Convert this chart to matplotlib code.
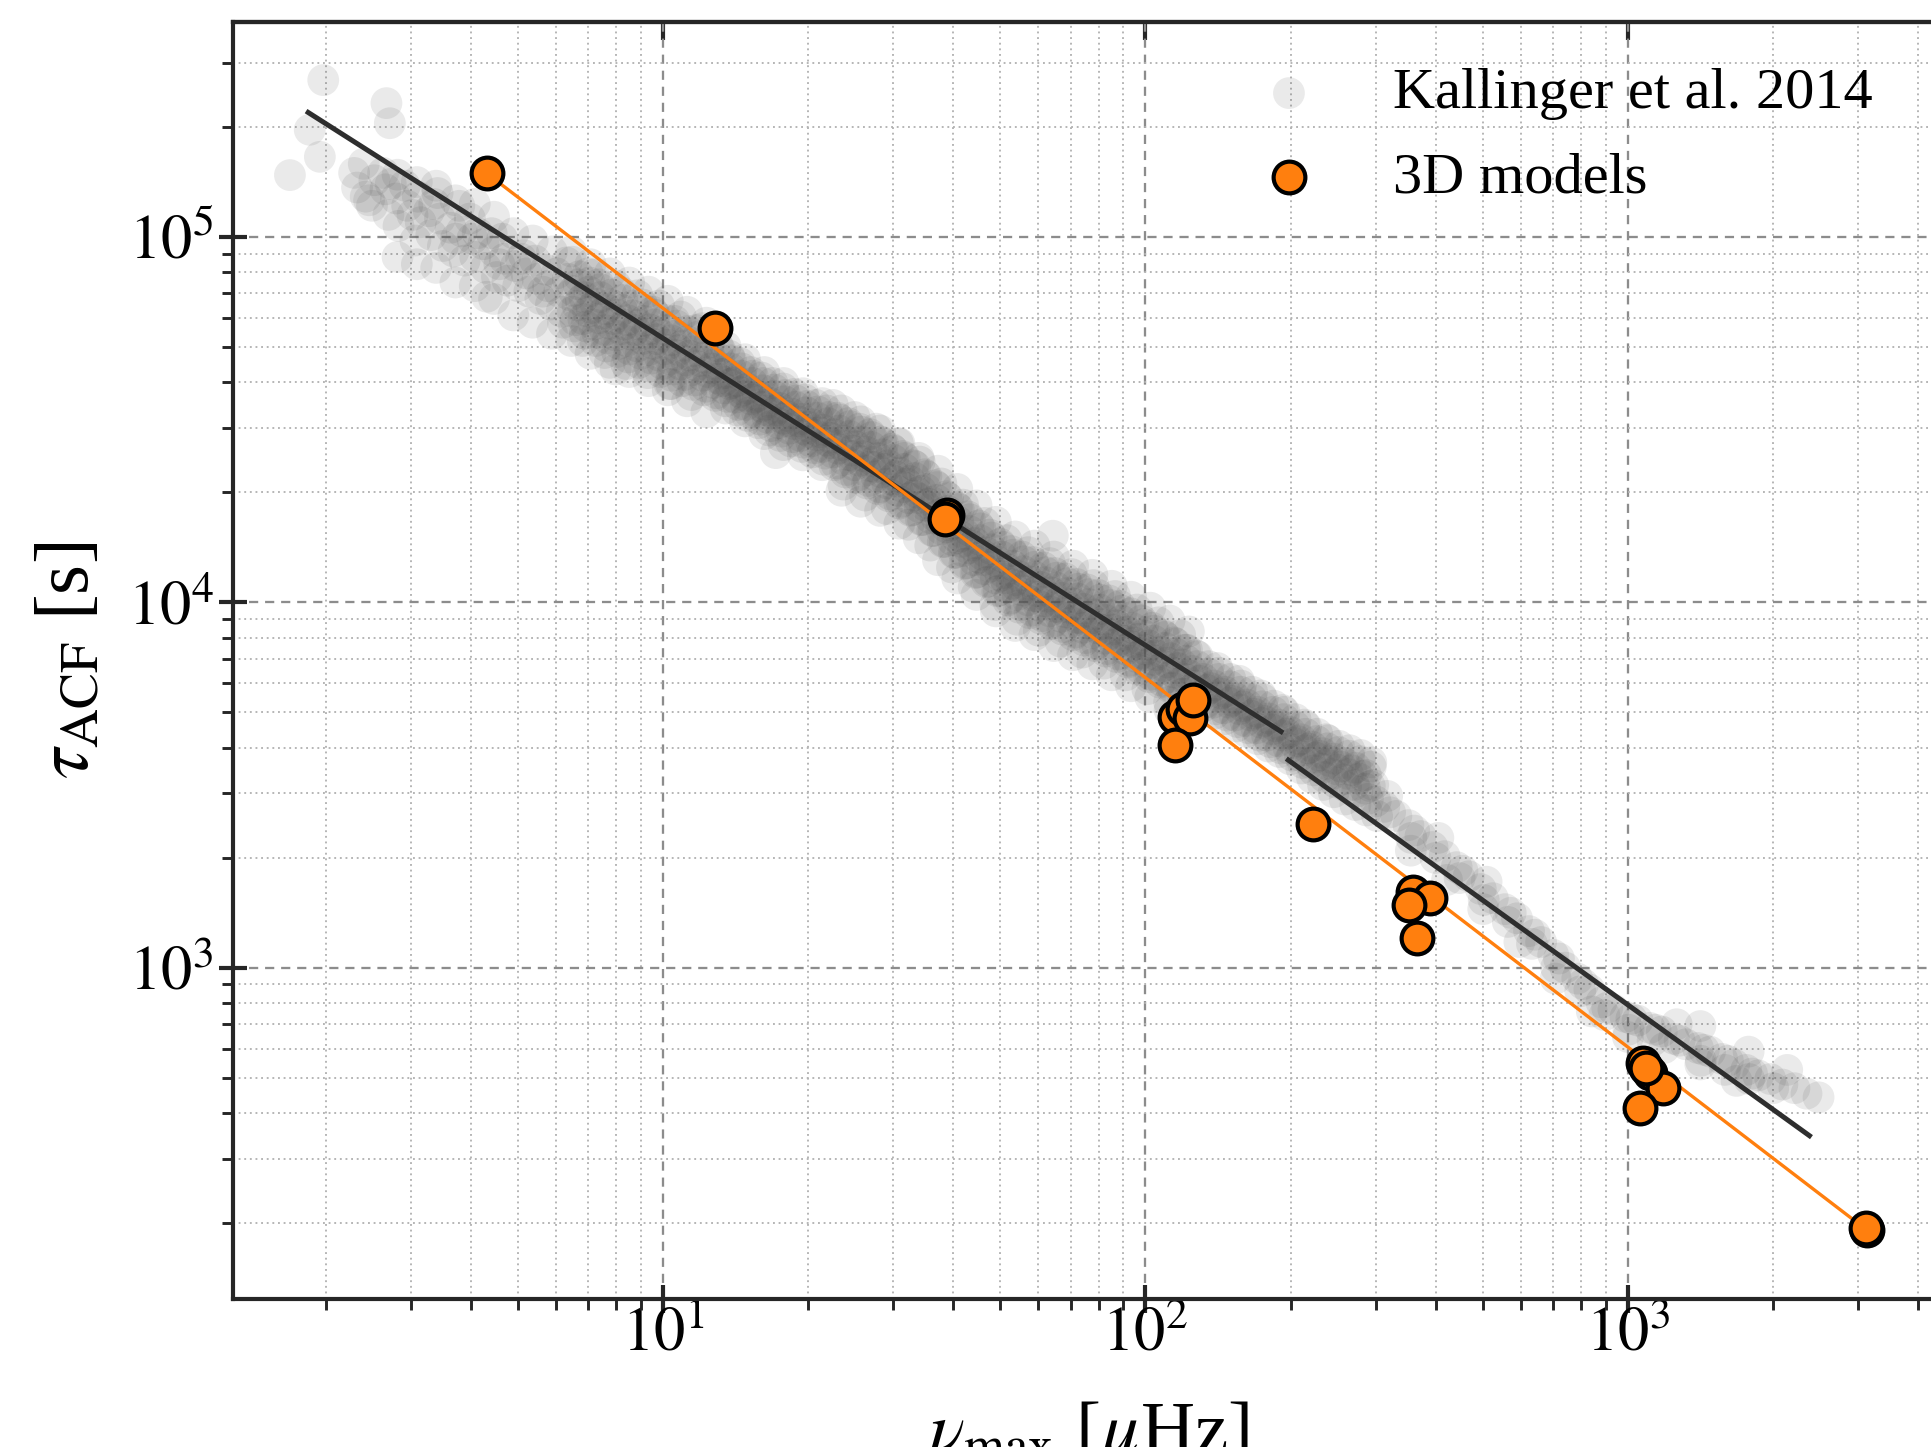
import numpy as np
import matplotlib
matplotlib.use("Agg")
import matplotlib.pyplot as plt
from matplotlib.ticker import LogLocator, NullFormatter, FuncFormatter, NullLocator

plt.rcParams['font.family'] = ['Liberation Serif', 'DejaVu Serif']
plt.rcParams['mathtext.fontset'] = 'stix'

# ---------------------------------------------------------------------------
# Kallinger et al. (2014) sample: log10(nu_max / muHz), log10(tau_ACF / s)
# ---------------------------------------------------------------------------
kal_lognumax = [
    0.227, 0.268, 0.289, 0.296, 0.427, 0.434, 0.635, 0.902, 1.017, 1.234, 1.808,
    0.360, 0.366,
    0.380, 0.384,
    0.402, 0.397,
    0.425, 0.431, 0.420,
    0.447, 0.452,
    0.470, 0.465,
    0.492, 0.498, 0.487,
    0.515, 0.520,
    0.538, 0.533, 0.544,
    0.560, 0.566,
    0.583, 0.578, 0.589,
    0.605, 0.611, 0.600,
    0.628, 0.633,
    0.650, 0.645, 0.656,
    0.672, 0.678, 0.667,
    0.695, 0.700,
    0.717, 0.712, 0.723,
    0.740, 0.746, 0.735,
    0.762, 0.768, 0.757,
    0.785, 0.790, 0.780, 0.793,
    0.391, 0.436, 0.481, 0.526, 0.571, 0.616, 0.661, 0.706, 0.751,
    0.808, 0.813, 0.803, 0.816, 0.800,
    0.830, 0.835, 0.825, 0.838,
    0.852, 0.857, 0.847, 0.860, 0.844,
    0.875, 0.880, 0.870, 0.883, 0.867,
    0.897, 0.902, 0.892, 0.905,
    0.920, 0.925, 0.915, 0.928, 0.912,
    0.942, 0.947, 0.937, 0.950,
    0.965, 0.970, 0.960, 0.973, 0.957,
    0.987, 0.992, 0.982, 0.995, 0.979,
    1.010, 1.015, 1.005, 1.018,
    1.032, 1.037, 1.027, 1.040, 1.024,
    1.055, 1.060, 1.050, 1.063,
    1.077, 1.082, 1.072, 1.085, 1.069,
    1.100, 1.105, 1.095, 1.108,
    1.122, 1.127, 1.117, 1.130, 1.114, 1.124,
    1.145, 1.150, 1.140, 1.153, 1.137,
    1.167, 1.172, 1.162, 1.175, 1.159, 1.169,
    1.190, 1.195, 1.185, 1.198, 1.182,
    1.212, 1.217, 1.207, 1.220, 1.204, 1.214,
    1.235, 1.240, 1.230, 1.243, 1.227,
    1.257, 1.262, 1.252, 1.265, 1.249, 1.259,
    1.280, 1.285, 1.275, 1.288, 1.272,
    1.302, 1.307, 1.297, 1.310, 1.294, 1.304,
    1.325, 1.330, 1.320, 1.333, 1.317,
    1.347, 1.352, 1.342, 1.355, 1.339, 1.349,
    1.370, 1.375, 1.365, 1.378, 1.362,
    1.392, 1.397, 1.387, 1.400, 1.384, 1.394,
    1.415, 1.420, 1.410, 1.423, 1.407,
    1.437, 1.442, 1.432, 1.445, 1.429, 1.439,
    1.460, 1.465, 1.455, 1.468, 1.452,
    1.482, 1.487, 1.477, 1.490, 1.474, 1.484,
    1.505, 1.510, 1.500, 1.513, 1.497,
    1.527, 1.532, 1.522, 1.535, 1.519, 1.529,
    1.550, 1.555, 1.545, 1.558, 1.542,
    1.572, 1.577, 1.567, 1.580, 1.564, 1.574,
    1.595, 1.600, 1.590, 1.603, 1.587,
    1.617, 1.622, 1.612, 1.625, 1.609, 1.619,
    1.640, 1.645, 1.635, 1.648, 1.632,
    1.662, 1.667, 1.657, 1.670, 1.654, 1.664,
    1.685, 1.690, 1.680, 1.693, 1.677,
    1.707, 1.712, 1.702, 1.715, 1.699, 1.709,
    1.730, 1.735, 1.725, 1.738, 1.722, 1.732,
    1.752, 1.757, 1.747, 1.760, 1.744,
    1.775, 1.780, 1.770, 1.783, 1.767, 1.777,
    1.797, 1.802, 1.792, 1.805, 1.789,
    1.820, 1.825, 1.815, 1.828, 1.812, 1.822,
    1.842, 1.847, 1.837, 1.850, 1.834,
    1.865, 1.870, 1.860, 1.873, 1.857, 1.867,
    1.887, 1.892, 1.882, 1.895, 1.879,
    1.910, 1.915, 1.905, 1.918, 1.902, 1.912,
    1.932, 1.937, 1.927, 1.940, 1.924,
    1.955, 1.960, 1.950, 1.963, 1.947, 1.957,
    1.977, 1.982, 1.972, 1.985, 1.969,
    2.000, 2.005, 1.995, 2.008, 1.992, 2.002,
    2.022, 2.027, 2.017, 2.030, 2.014,
    2.045, 2.050, 2.040, 2.053, 2.037,
    2.067, 2.072, 2.062, 2.075, 2.059,
    2.090, 2.095, 2.085, 2.098, 2.082,
    2.112, 2.117, 2.107, 2.120, 2.104,
    2.135, 2.140, 2.130, 2.143,
    2.157, 2.162, 2.152, 2.165, 2.149,
    2.180, 2.185, 2.175, 2.188,
    2.202, 2.207, 2.197, 2.210, 2.194,
    2.225, 2.230, 2.220, 2.233,
    2.247, 2.252, 2.242, 2.255, 2.239,
    2.270, 2.275, 2.265, 2.278,
    2.292, 2.297, 2.287, 2.300, 2.284,
    2.315, 2.320, 2.310, 2.323,
    2.337, 2.342, 2.332, 2.345, 2.329,
    2.360, 2.365, 2.355, 2.368,
    2.382, 2.387, 2.377, 2.390, 2.374,
    2.405, 2.410, 2.400, 2.413,
    2.427, 2.432, 2.422, 2.435,
    2.450, 2.455, 2.445, 2.458,
    2.472, 2.477, 2.467, 2.480,
    0.819, 0.823, 0.815, 0.826, 0.812,
    0.841, 0.845, 0.837, 0.848, 0.834,
    0.864, 0.868, 0.860, 0.871, 0.857,
    0.886, 0.890, 0.882, 0.893, 0.879,
    0.909, 0.913, 0.905, 0.916, 0.902,
    0.931, 0.935, 0.927, 0.938, 0.924,
    0.954, 0.958, 0.950, 0.961, 0.947,
    0.976, 0.980, 0.972, 0.983, 0.969,
    0.999, 1.003, 0.995, 1.006, 0.992,
    1.021, 1.025, 1.017, 1.028, 1.014,
    1.044, 1.048, 1.040, 1.051, 1.037,
    1.066, 1.070, 1.062, 1.073, 1.059,
    1.089, 1.093, 1.085, 1.096, 1.082,
    1.111, 1.115, 1.107, 1.118,
    1.134, 1.138, 1.130, 1.141,
    1.156, 1.160, 1.152, 1.163,
    1.179, 1.183, 1.175, 1.186,
    1.201, 1.205, 1.197, 1.208,
    1.224, 1.228, 1.220, 1.231,
    1.246, 1.250, 1.242, 1.253,
    1.269, 1.273, 1.265, 1.276,
    1.291, 1.295, 1.287, 1.298,
    1.314, 1.318, 1.310, 1.321,
    1.336, 1.340, 1.332, 1.343,
    1.359, 1.363, 1.355, 1.366, 1.352,
    1.381, 1.385, 1.377, 1.388, 1.374,
    1.404, 1.408, 1.400, 1.411, 1.397,
    1.426, 1.430, 1.422, 1.433, 1.419,
    1.449, 1.453, 1.445, 1.456, 1.442,
    1.471, 1.475, 1.467, 1.478, 1.464,
    1.494, 1.498, 1.490, 1.501, 1.487,
    1.516, 1.520, 1.512, 1.523, 1.509,
    1.539, 1.543, 1.535, 1.546, 1.532,
    1.561, 1.565, 1.557, 1.568, 1.554,
    1.584, 1.588, 1.580, 1.591, 1.577,
    1.606, 1.610, 1.602, 1.613, 1.599,
    1.629, 1.633, 1.625, 1.636, 1.622,
    1.651, 1.655, 1.647, 1.658, 1.644,
    1.674, 1.678, 1.670, 1.681, 1.667,
    1.696, 1.700, 1.692, 1.703, 1.689,
    1.719, 1.723, 1.715, 1.726, 1.712,
    1.741, 1.745, 1.737, 1.748, 1.734,
    1.764, 1.768, 1.760, 1.771, 1.757,
    1.786, 1.790, 1.782, 1.793, 1.779,
    1.809, 1.813, 1.805, 1.816, 1.802,
    1.831, 1.835, 1.827, 1.838, 1.824,
    1.854, 1.858, 1.850, 1.861, 1.847,
    1.876, 1.880, 1.872, 1.883, 1.869,
    1.899, 1.903, 1.895, 1.906, 1.892,
    1.921, 1.925, 1.917, 1.928, 1.914,
    1.944, 1.948, 1.940, 1.951, 1.937,
    1.966, 1.970, 1.962, 1.973, 1.959,
    1.989, 1.993, 1.985, 1.996, 1.982,
    2.011, 2.015, 2.007, 2.018, 2.004,
    2.034, 2.038, 2.030, 2.041, 2.027,
    2.056, 2.060, 2.052, 2.063, 2.049,
    2.079, 2.083, 2.075, 2.086, 2.072,
    2.101, 2.105, 2.097, 2.108,
    2.124, 2.128, 2.120, 2.131,
    2.146, 2.150, 2.142, 2.153,
    2.169, 2.173, 2.165, 2.176,
    2.191, 2.195, 2.187, 2.198,
    2.214, 2.218, 2.210, 2.221,
    2.236, 2.240, 2.232, 2.243,
    2.259, 2.263, 2.255, 2.266,
    2.281, 2.285, 2.277, 2.288,
    2.304, 2.308, 2.300, 2.311,
    2.326, 2.330, 2.322, 2.333,
    2.349, 2.353, 2.345, 2.356,
    2.371, 2.375, 2.367, 2.378,
    2.394, 2.398, 2.390, 2.401,
    2.416, 2.420, 2.412, 2.423,
    2.439, 2.443, 2.435, 2.446,
    2.461, 2.465, 2.457, 2.468,
    2.495, 2.501,
    2.520,
    2.545, 2.551,
    2.570,
    2.595, 2.601,
    2.620,
    2.645, 2.651,
    2.670,
    2.695, 2.701,
    2.720,
    2.745, 2.751,
    2.770,
    2.795, 2.801,
    2.820,
    2.845, 2.851,
    2.870,
    2.895, 2.901,
    2.920,
    2.945, 2.951,
    2.970,
    2.995, 3.001,
    3.020,
    3.045, 3.051,
    3.070,
    3.095, 3.101,
    3.120,
    3.145, 3.151,
    3.170,
    3.195, 3.201,
    3.220,
    3.245, 3.251,
    3.270,
    3.295, 3.301,
    3.320,
    3.345,
    3.370,
    3.395,
    2.507, 2.557, 2.607, 2.657, 2.707, 2.757, 2.807, 2.857,
    2.907, 2.957, 3.007, 3.057, 3.107, 3.157, 3.207, 3.257,
    # upper / lower edge of the sequence
    0.45, 0.49, 0.53, 0.57, 0.61, 0.65, 0.69, 0.73, 0.77,
    0.45, 0.49, 0.53, 0.57, 0.61, 0.65, 0.69, 0.73, 0.77,
    0.81, 0.85, 0.89, 0.93, 0.97, 1.01, 1.05, 1.09, 1.13, 1.17, 1.21,
    1.25, 1.29, 1.33, 1.37, 1.41, 1.45, 1.49, 1.53, 1.57, 1.61, 1.65,
    1.69, 1.73, 1.77, 1.81, 1.85, 1.89, 1.93, 1.97, 2.01, 2.05, 2.09,
    0.81, 0.85, 0.89, 0.93, 0.97, 1.01, 1.05, 1.09, 1.13, 1.17, 1.21,
    1.25, 1.29, 1.33, 1.37, 1.41, 1.45, 1.49, 1.53, 1.57, 1.61, 1.65,
    1.69, 1.73, 1.77, 1.81, 1.85, 1.89, 1.93, 1.97, 2.01, 2.05, 2.09,
    2.55, 2.625, 2.70, 2.775, 2.85, 2.925, 3.00, 3.075, 3.15, 3.225,
    3.15, 3.25, 3.33,
]

kal_logtau = [
    5.169, 5.293, 5.219, 5.429, 5.366, 5.311, 4.836, 4.637, 4.597, 4.408, 4.182,
    5.175, 5.135,
    5.200, 5.110,
    5.155, 5.085,
    5.130, 5.060, 5.175,
    5.105, 5.030,
    5.085, 5.140,
    5.110, 5.040, 4.990,
    5.070, 5.005,
    5.050, 5.120, 4.975,
    5.025, 4.960,
    5.015, 5.085, 4.935,
    4.995, 4.945, 5.050,
    4.980, 4.915,
    4.960, 5.010, 4.890,
    4.940, 4.880, 4.995,
    4.920, 4.865,
    4.900, 4.950, 4.850,
    4.885, 4.830, 4.935,
    4.865, 4.815, 4.910,
    4.850, 4.795, 4.900, 4.765,
    5.100, 5.145, 5.060, 5.090, 4.995, 5.010, 4.925, 4.940, 4.850,
    4.840, 4.795, 4.885, 4.755, 4.930,
    4.825, 4.775, 4.870, 4.735,
    4.805, 4.760, 4.850, 4.715, 4.900,
    4.790, 4.745, 4.835, 4.700, 4.870,
    4.775, 4.730, 4.815, 4.685,
    4.760, 4.715, 4.800, 4.670, 4.850,
    4.745, 4.700, 4.785, 4.655,
    4.735, 4.690, 4.770, 4.645, 4.815,
    4.720, 4.675, 4.760, 4.630, 4.795,
    4.705, 4.665, 4.745, 4.620,
    4.690, 4.650, 4.730, 4.605, 4.770,
    4.675, 4.635, 4.715, 4.595,
    4.660, 4.620, 4.700, 4.580, 4.745,
    4.640, 4.600, 4.680, 4.565,
    4.625, 4.585, 4.665, 4.550, 4.700, 4.605,
    4.600, 4.560, 4.640, 4.525, 4.675,
    4.580, 4.540, 4.620, 4.510, 4.655, 4.565,
    4.560, 4.520, 4.600, 4.490, 4.630,
    4.540, 4.505, 4.580, 4.470, 4.615, 4.525,
    4.525, 4.490, 4.565, 4.455, 4.600,
    4.510, 4.475, 4.550, 4.440, 4.585, 4.495,
    4.495, 4.455, 4.535, 4.425, 4.570,
    4.480, 4.440, 4.520, 4.410, 4.555, 4.465,
    4.465, 4.425, 4.505, 4.390, 4.540,
    4.450, 4.410, 4.490, 4.375, 4.525, 4.435,
    4.430, 4.390, 4.470, 4.355, 4.505,
    4.415, 4.375, 4.455, 4.340, 4.490, 4.400,
    4.400, 4.360, 4.440, 4.325, 4.475,
    4.385, 4.345, 4.425, 4.310, 4.460, 4.370,
    4.365, 4.325, 4.405, 4.290, 4.440,
    4.345, 4.305, 4.390, 4.270, 4.420, 4.330,
    4.325, 4.285, 4.365, 4.250, 4.400,
    4.300, 4.260, 4.340, 4.225, 4.375, 4.285,
    4.270, 4.230, 4.310, 4.195, 4.350,
    4.240, 4.200, 4.280, 4.165, 4.320, 4.225,
    4.210, 4.170, 4.250, 4.135, 4.290,
    4.180, 4.140, 4.220, 4.105, 4.260, 4.165,
    4.155, 4.115, 4.195, 4.080, 4.235,
    4.130, 4.090, 4.170, 4.055, 4.210, 4.115,
    4.105, 4.065, 4.145, 4.030, 4.185,
    4.080, 4.040, 4.125, 4.005, 4.160, 4.065,
    4.060, 4.020, 4.100, 3.985, 4.140, 4.045,
    4.045, 4.005, 4.085, 3.970, 4.125,
    4.030, 3.990, 4.070, 3.955, 4.110, 4.015,
    4.015, 3.975, 4.055, 3.940, 4.095,
    4.000, 3.960, 4.040, 3.925, 4.080, 3.985,
    3.985, 3.945, 4.025, 3.910, 4.065,
    3.970, 3.930, 4.010, 3.895, 4.050, 3.955,
    3.955, 3.915, 3.995, 3.880, 4.035,
    3.940, 3.900, 3.980, 3.865, 4.020, 3.925,
    3.925, 3.885, 3.965, 3.850, 4.005,
    3.910, 3.870, 3.950, 3.835, 3.990, 3.895,
    3.890, 3.850, 3.930, 3.815, 3.970,
    3.870, 3.830, 3.910, 3.795, 3.950, 3.855,
    3.855, 3.815, 3.895, 3.780, 3.930,
    3.835, 3.795, 3.875, 3.765, 3.910,
    3.820, 3.780, 3.860, 3.750, 3.890,
    3.800, 3.760, 3.840, 3.730, 3.870,
    3.785, 3.745, 3.825, 3.715, 3.855,
    3.765, 3.725, 3.805, 3.695,
    3.750, 3.710, 3.790, 3.680, 3.820,
    3.730, 3.690, 3.770, 3.660,
    3.715, 3.675, 3.755, 3.645, 3.785,
    3.695, 3.655, 3.735, 3.625,
    3.675, 3.635, 3.715, 3.605, 3.745,
    3.660, 3.620, 3.700, 3.590,
    3.640, 3.600, 3.680, 3.570, 3.705,
    3.620, 3.580, 3.660, 3.545,
    3.600, 3.560, 3.640, 3.520, 3.665,
    3.580, 3.545, 3.620, 3.500,
    3.565, 3.530, 3.600, 3.480, 3.625,
    3.550, 3.515, 3.590, 3.460,
    3.540, 3.500, 3.580, 3.445,
    3.525, 3.490, 3.565, 3.430,
    3.500, 3.455, 3.550, 3.415,
    4.772, 4.812, 4.852, 4.892, 4.932,
    4.755, 4.795, 4.835, 4.875, 4.715,
    4.737, 4.777, 4.817, 4.857, 4.897,
    4.722, 4.762, 4.802, 4.842, 4.682,
    4.707, 4.747, 4.787, 4.827, 4.867,
    4.692, 4.732, 4.772, 4.812, 4.652,
    4.680, 4.720, 4.760, 4.800, 4.840,
    4.667, 4.707, 4.747, 4.787, 4.627,
    4.652, 4.692, 4.732, 4.772, 4.812,
    4.637, 4.677, 4.717, 4.757, 4.597,
    4.622, 4.662, 4.702, 4.742, 4.782,
    4.607, 4.647, 4.687, 4.727, 4.567,
    4.590, 4.630, 4.670, 4.710, 4.750,
    4.572, 4.612, 4.652, 4.692,
    4.562, 4.597, 4.627, 4.662,
    4.540, 4.575, 4.605, 4.640,
    4.520, 4.555, 4.585, 4.620,
    4.500, 4.535, 4.565, 4.600,
    4.482, 4.517, 4.547, 4.582,
    4.467, 4.502, 4.532, 4.567,
    4.452, 4.487, 4.517, 4.552,
    4.437, 4.472, 4.502, 4.537,
    4.422, 4.457, 4.487, 4.522,
    4.407, 4.442, 4.472, 4.507,
    4.380, 4.420, 4.460, 4.500, 4.540,
    4.362, 4.402, 4.442, 4.482, 4.322,
    4.347, 4.387, 4.427, 4.467, 4.507,
    4.332, 4.372, 4.412, 4.452, 4.292,
    4.315, 4.355, 4.395, 4.435, 4.475,
    4.295, 4.335, 4.375, 4.415, 4.255,
    4.275, 4.315, 4.355, 4.395, 4.435,
    4.252, 4.292, 4.332, 4.372, 4.212,
    4.225, 4.265, 4.305, 4.345, 4.385,
    4.195, 4.235, 4.275, 4.315, 4.155,
    4.165, 4.205, 4.245, 4.285, 4.325,
    4.135, 4.175, 4.215, 4.255, 4.095,
    4.107, 4.147, 4.187, 4.227, 4.267,
    4.082, 4.122, 4.162, 4.202, 4.042,
    4.057, 4.097, 4.137, 4.177, 4.217,
    4.032, 4.072, 4.112, 4.152, 3.992,
    4.010, 4.050, 4.090, 4.130, 4.170,
    3.992, 4.032, 4.072, 4.112, 3.952,
    3.977, 4.017, 4.057, 4.097, 4.137,
    3.962, 4.002, 4.042, 4.082, 3.922,
    3.947, 3.987, 4.027, 4.067, 4.107,
    3.932, 3.972, 4.012, 4.052, 3.892,
    3.917, 3.957, 3.997, 4.037, 4.077,
    3.902, 3.942, 3.982, 4.022, 3.862,
    3.887, 3.927, 3.967, 4.007, 4.047,
    3.872, 3.912, 3.952, 3.992, 3.832,
    3.857, 3.897, 3.937, 3.977, 4.017,
    3.840, 3.880, 3.920, 3.960, 3.800,
    3.820, 3.860, 3.900, 3.940, 3.980,
    3.802, 3.842, 3.882, 3.922, 3.762,
    3.785, 3.825, 3.865, 3.905, 3.945,
    3.767, 3.807, 3.847, 3.887, 3.727,
    3.750, 3.790, 3.830, 3.870, 3.910,
    3.732, 3.772, 3.812, 3.852,
    3.725, 3.760, 3.790, 3.825,
    3.707, 3.742, 3.772, 3.807,
    3.690, 3.725, 3.755, 3.790,
    3.672, 3.707, 3.737, 3.772,
    3.655, 3.690, 3.720, 3.755,
    3.635, 3.670, 3.700, 3.735,
    3.617, 3.652, 3.682, 3.717,
    3.600, 3.635, 3.665, 3.700,
    3.580, 3.615, 3.645, 3.680,
    3.560, 3.595, 3.625, 3.660,
    3.540, 3.575, 3.605, 3.640,
    3.522, 3.557, 3.587, 3.622,
    3.507, 3.542, 3.572, 3.607,
    3.495, 3.530, 3.560, 3.595,
    3.482, 3.517, 3.547, 3.582,
    3.462, 3.497, 3.527, 3.562,
    3.440, 3.470,
    3.415,
    3.390, 3.355,
    3.360,
    3.330, 3.300,
    3.305,
    3.275, 3.245,
    3.250,
    3.215, 3.185,
    3.190,
    3.160, 3.125,
    3.135,
    3.100, 3.065,
    3.070,
    3.035, 3.000,
    3.000,
    2.970, 2.935,
    2.940,
    2.905, 2.870,
    2.885,
    2.865, 2.830,
    2.855,
    2.835, 2.800,
    2.825,
    2.805, 2.845,
    2.790,
    2.780, 2.745,
    2.770,
    2.750, 2.720,
    2.735,
    2.720, 2.695,
    2.705,
    2.695, 2.670,
    2.680,
    2.670,
    2.655,
    2.645,
    3.425, 3.375, 3.355, 3.265, 3.235, 3.150, 3.090, 3.025,
    2.955, 2.890, 2.860, 2.830, 2.800, 2.775, 2.745, 2.710,
    # upper / lower edge of the sequence
    5.170, 5.150, 5.140, 5.100, 5.090, 5.055, 5.010, 4.990, 4.960,
    4.945, 4.925, 4.915, 4.875, 4.865, 4.830, 4.785, 4.765, 4.735,
    4.960, 4.925, 4.900, 4.875, 4.850, 4.825, 4.795, 4.765, 4.700, 4.665, 4.630,
    4.600, 4.572, 4.545, 4.525, 4.495, 4.470, 4.435, 4.395, 4.360, 4.310, 4.265,
    4.220, 4.180, 4.155, 4.125, 4.100, 4.075, 4.045, 4.015, 3.985, 3.950, 3.920,
    4.715, 4.680, 4.655, 4.630, 4.605, 4.580, 4.550, 4.520, 4.530, 4.495, 4.460,
    4.430, 4.402, 4.375, 4.305, 4.275, 4.250, 4.215, 4.175, 4.115, 4.065, 4.020,
    3.975, 3.935, 3.910, 3.880, 3.855, 3.830, 3.800, 3.770, 3.740, 3.705, 3.675,
    3.320, 3.240, 3.160, 3.070, 2.970, 2.880, 2.810, 2.780, 2.735, 2.690,
    2.840, 2.770, 2.720,
]

# ---------------------------------------------------------------------------
# 3D convection models
# ---------------------------------------------------------------------------
model_numax = [4.31, 12.82, 38.8, 38.5, 115.1, 119.5, 123.6, 125.6, 115.1,
               222.8, 359, 389, 351, 365,
               1076, 1111, 1184, 1060, 1090, 3124, 3110]
model_tau = [1.494e5, 5.62e4, 1.73e4, 1.69e4, 4862, 5100, 4817, 5410, 4066,
             2472, 1615, 1549, 1487, 1203,
             547, 514, 468, 412, 530, 191.4, 193.5]

# Power-law fits (end points)
obs_fit_lo_numax = [1.84, 191.0]
obs_fit_lo_tau = [2.19e5, 4426]
obs_fit_hi_numax = [197.7, 2377]
obs_fit_hi_tau = [3698, 346.7]
model_fit_numax = [4.31, 3124]
model_fit_tau = [1.494e5, 191.4]

# ---------------------------------------------------------------------------
W, H, DPI = 1931, 1447, 300
fig = plt.figure(figsize=(W / DPI, H / DPI), dpi=DPI)
ax_left, ax_right, ax_top, ax_bottom = 233, 1945, 22, 1299
ax = fig.add_axes([ax_left / W, 1 - ax_bottom / H,
                   (ax_right - ax_left) / W, (ax_bottom - ax_top) / H])
ax.set_xscale('log')
ax.set_yscale('log')
ax.set_xlim(10 ** 0.109, 10 ** 3.657)
ax.set_ylim(10 ** 2.093, 10 ** 5.588)

ax.set_axisbelow(True)
ax.grid(True, which='major', linestyle=(0, (4, 3)), color='0.55', linewidth=0.55)
ax.grid(True, which='minor', linestyle=(0, (1, 2)), color='0.7', linewidth=0.45)

orange = '#ff7f0e'
ax.scatter(10 ** np.array(kal_lognumax), 10 ** np.array(kal_logtau), s=58,
           color='0.33', alpha=0.12, edgecolors='none', zorder=1,
           label='Kallinger et al. 2014')
ax.plot(obs_fit_lo_numax, obs_fit_lo_tau, color='0.18', lw=1.2, zorder=2)
ax.plot(obs_fit_hi_numax, obs_fit_hi_tau, color='0.18', lw=1.2, zorder=2)
ax.plot(model_fit_numax, model_fit_tau, color=orange, lw=0.8, zorder=3)
ax.scatter(model_numax, model_tau, s=58, color=orange, edgecolors='black',
           linewidths=1.0, zorder=4, label='3D models')

# Axis decorations
decade_fmt = FuncFormatter(lambda v, p: r'$10^{%d}$' % round(np.log10(v)))
for axis in (ax.xaxis, ax.yaxis):
    axis.set_major_locator(LogLocator(base=10, numticks=20))
    axis.set_minor_locator(LogLocator(base=10, subs=np.arange(2, 10), numticks=100))
    axis.set_major_formatter(decade_fmt)
    axis.set_minor_formatter(NullFormatter())

ax.tick_params(which='major', direction='inout', length=6.5, width=1.0,
               color='0.15', labelsize=15)
ax.tick_params(which='minor', direction='out', length=2.6, width=0.7, color='0.15')
ax.tick_params(axis='x', which='major', pad=-1.4)
ax.tick_params(axis='y', which='major', pad=1.4)
for sp in ax.spines.values():
    sp.set_linewidth(1.0)
    sp.set_color('0.15')

top = ax.secondary_xaxis('top')
top.xaxis.set_minor_locator(NullLocator())
top.xaxis.set_major_formatter(NullFormatter())
top.tick_params(which='major', direction='in', length=4.2, width=1.0, color='0.15')
top.spines['top'].set_linewidth(1.0)
top.spines['top'].set_color('0.15')

ax.set_ylabel(r'$\tau_{\rm ACF}$ [s]', fontsize=18.5)
ax.yaxis.set_label_coords(-0.075, 0.5)
ax.set_xlabel(r'$\nu_{\rm max}$ [$\mu$Hz]', fontsize=18)
ax.xaxis.set_label_coords(0.5, -0.078)

ax.legend(loc='upper left', bbox_to_anchor=(0.6373, 0.9533),
          bbox_transform=fig.transFigure, frameon=False, fontsize=14,
          handletextpad=0.78, labelspacing=0.54, borderpad=0, borderaxespad=0,
          scatterpoints=1, handlelength=2.0)

fig.savefig('out.png', dpi=DPI)
